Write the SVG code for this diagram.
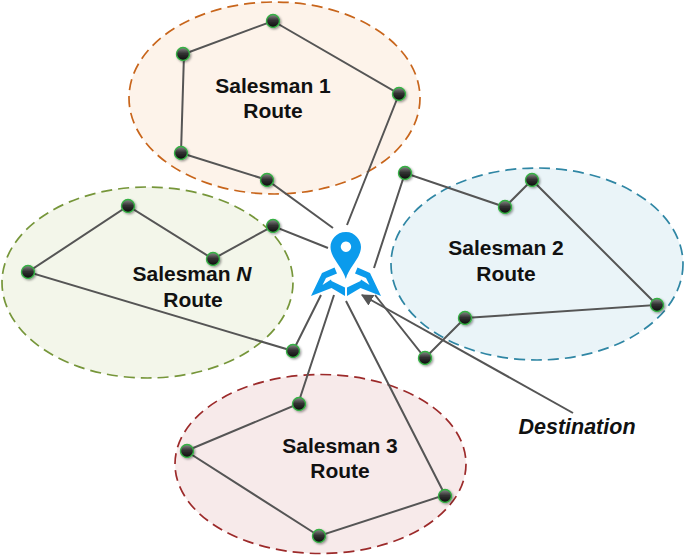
<svg xmlns="http://www.w3.org/2000/svg" width="685" height="556" viewBox="0 0 685 556">
<style>
.e{stroke-width:1.7;stroke-dasharray:11 6}
.l{fill:none;stroke:#555;stroke-width:2}
.t{font-family:"Liberation Sans",Arial,sans-serif;font-size:21px;font-weight:bold;fill:#111;text-anchor:middle}
.n{fill:url(#g);stroke:#35b044;stroke-width:1.4;filter:url(#s)}
</style>
<defs>
<linearGradient id="g" x1="0" y1="0" x2="0" y2="1"><stop offset="0" stop-color="#8a8a8a"/><stop offset="0.45" stop-color="#333"/><stop offset="1" stop-color="#0c0c0c"/></linearGradient>
<filter id="s" x="-50%" y="-50%" width="200%" height="200%"><feDropShadow dx="1.2" dy="1.2" stdDeviation="1" flood-color="#000" flood-opacity="0.4"/></filter>
<marker id="a" viewBox="0 0 10 10" refX="9" refY="5" markerWidth="12" markerHeight="12" markerUnits="userSpaceOnUse" orient="auto"><path d="M0 0L10 5L0 10Z" fill="#555"/></marker>
</defs>
<g id="region-1"><ellipse class="e" cx="274.500" cy="98" rx="145.500" ry="96" fill="#fdf3ea" stroke="#c8651b"/><text class="t" x="273" y="93">Salesman 1</text><text class="t" x="273" y="118">Route</text></g>
<g id="region-2"><ellipse class="e" cx="537" cy="264" rx="146" ry="96" fill="#eaf4f8" stroke="#2f86a4"/><text class="t" x="506" y="255">Salesman 2</text><text class="t" x="506" y="281">Route</text></g>
<g id="region-3"><ellipse class="e" cx="320.500" cy="464" rx="145.500" ry="89.500" fill="#f7eaea" stroke="#9c2a2a"/><text class="t" x="340" y="453">Salesman 3</text><text class="t" x="340" y="478">Route</text></g>
<g id="region-n"><ellipse class="e" cx="147.500" cy="282.500" rx="145.500" ry="95.500" fill="#f3f6ea" stroke="#76963a"/><text class="t" x="192" y="281">Salesman <tspan font-style="italic">N</tspan></text><text class="t" x="193" y="307">Route</text></g>
<g id="connectors">
<path class="l" d="M333 228L267 180L181 153L184 54L273 21L399 94L347 225"/>
<path class="l" d="M374 268L405 173L505 207L532 180L657 305L465 318L425 358L375 295"/>
<path class="l" d="M346 301L445 495L319 536L186 451L298 404L334 295"/>
<path class="l" d="M321 295L293 351L28 272L128 206L213 259L273 226L328 248"/>
<path class="l" marker-end="url(#a)" d="M573 413L362 295"/>
</g>
<g id="destination-icon" fill="#0b9bec">
<path fill-rule="evenodd" d="M346 232C336 232 330.500 240 330.500 247C330.500 258 342 266 345.800 279C349.500 266 361 258 361 247C361 240 355 232 346 232ZM346 241.500A5.200 5.200 0 1 1 345.900 241.500Z"/>
<path d="M311 296L322 273L334.500 267.500L337 273.500L326 278L322.500 285L331 279.500L331.500 281L345 287.500V296L331.500 288Z"/>
<path d="M381 296L370 273L357.500 267.500L355 273.500L366 278L369.500 285L361 279.500L360.500 281L347 287.500V296L360.500 288Z"/>
</g>
<g id="stops">
<circle class="n" cx="273" cy="21" r="6.500"/><circle class="n" cx="183" cy="54" r="6.500"/><circle class="n" cx="399" cy="94" r="6.500"/><circle class="n" cx="181" cy="153" r="6.500"/><circle class="n" cx="267" cy="180" r="6.500"/>
<circle class="n" cx="405" cy="173" r="6.500"/><circle class="n" cx="505" cy="207" r="6.500"/><circle class="n" cx="532" cy="180" r="6.500"/><circle class="n" cx="657" cy="305" r="6.500"/><circle class="n" cx="465" cy="318" r="6.500"/><circle class="n" cx="425" cy="358" r="6.500"/>
<circle class="n" cx="299" cy="404" r="6.500"/><circle class="n" cx="187" cy="451" r="6.500"/><circle class="n" cx="319" cy="536" r="6.500"/><circle class="n" cx="445" cy="496" r="6.500"/>
<circle class="n" cx="128" cy="206" r="6.500"/><circle class="n" cx="28" cy="272" r="6.500"/><circle class="n" cx="213" cy="259" r="6.500"/><circle class="n" cx="273" cy="226" r="6.500"/><circle class="n" cx="293" cy="351" r="6.500"/>
</g>
<text id="destination-label" x="577" y="434" font-family="Liberation Sans,Arial,sans-serif" font-size="21.500" font-weight="bold" font-style="italic" fill="#111" text-anchor="middle">Destination</text>
</svg>
